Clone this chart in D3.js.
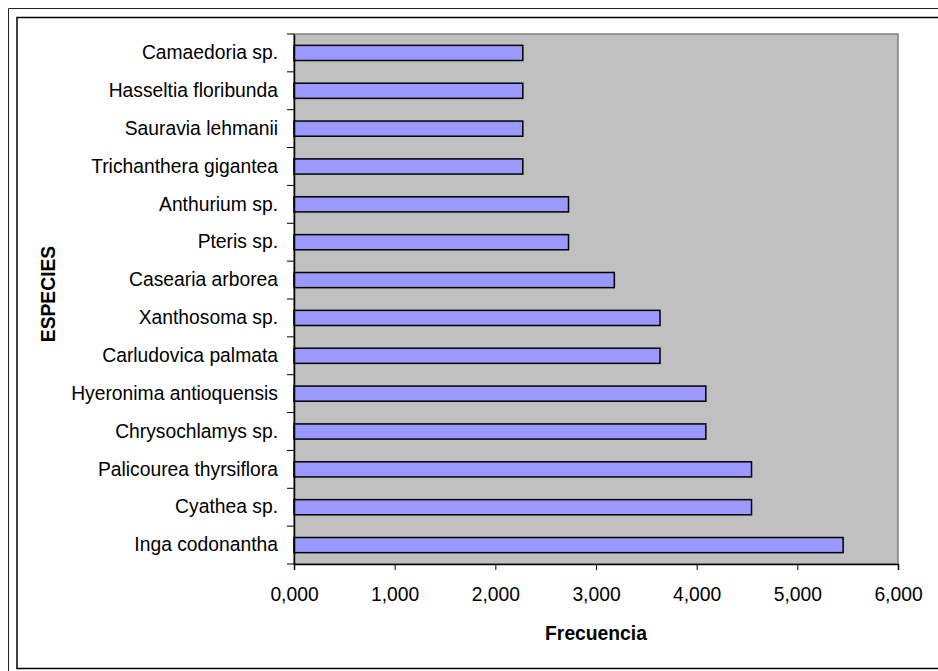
<!DOCTYPE html>
<html>
<head>
<meta charset="utf-8">
<script src="https://cdn.jsdelivr.net/npm/d3@7/dist/d3.min.js"></script>
<style>
  body { margin: 0; background: #fff; }
  svg { display: block; font-family: "Liberation Sans", Arial, sans-serif; }
  .tick text { fill: #000; }
</style>
</head>
<body>
<svg width="938" height="671"></svg>
<script>
const svg = d3.select('svg');
const width = +svg.attr('width');
const height = +svg.attr('height');

// top to bottom, as in the chart
const species = [
  'Camaedoria sp.', 'Hasseltia floribunda', 'Sauravia lehmanii', 'Trichanthera gigantea',
  'Anthurium sp.', 'Pteris sp.', 'Casearia arborea', 'Xanthosoma sp.',
  'Carludovica palmata', 'Hyeronima antioquensis', 'Chrysochlamys sp.',
  'Palicourea thyrsiflora', 'Cyathea sp.', 'Inga codonantha'
];
const frecuencia = [
  2.273, 2.273, 2.273, 2.273,
  2.727, 2.727, 3.182, 3.636,
  3.636, 4.091, 4.091,
  4.545, 4.545, 5.455
];
const xTicks = [0, 1, 2, 3, 4, 5, 6];

const data = species.map((s, i) => ({ name: s, value: frecuencia[i] }));
const fontSize = 19.3;

// double frame round the chart (right side runs off the picture)
svg.append('path')
  .attr('d', `M${width},8.5 H8.5 V${height}`)
  .attr('fill', 'none').attr('stroke', '#222').attr('stroke-width', 1);
svg.append('path')
  .attr('d', `M${width},17.5 H17 V668.5 H${width}`)
  .attr('fill', 'none').attr('stroke', '#000').attr('stroke-width', 1.5);

const margin = { top: 34, left: 294, right: 40, bottom: 107 };
const innerWidth = width - margin.left - margin.right;
const innerHeight = height - margin.top - margin.bottom;

const g = svg.append('g')
  .attr('transform', `translate(${margin.left},${margin.top})`);

const xScale = d3.scaleLinear()
  .domain([0, 6])
  .range([0, innerWidth]);

const yScale = d3.scaleBand()
  .domain(species)
  .range([0, innerHeight])
  .paddingInner(0)
  .paddingOuter(0);

// plot area
g.append('rect')
  .attr('width', innerWidth)
  .attr('height', innerHeight)
  .attr('fill', '#c0c0c0')
  .attr('stroke', '#808080')
  .attr('stroke-width', 1.5);

// bars
const barH = yScale.bandwidth() / 2.5;
g.selectAll('.bar').data(data)
  .enter().append('rect')
  .attr('class', 'bar')
  .attr('x', 0)
  .attr('y', d => yScale(d.name) + (yScale.bandwidth() - barH) / 2)
  .attr('width', d => xScale(d.value))
  .attr('height', barH)
  .attr('fill', '#9999ff')
  .attr('stroke', '#000')
  .attr('stroke-width', 1.5);

// x axis
const xAxis = d3.axisBottom(xScale)
  .tickValues(xTicks)
  .tickSize(6)
  .tickPadding(17)
  .tickFormat(d => d3.format('.3f')(d).replace('.', ','));

const xAxisG = g.append('g')
  .attr('transform', `translate(0,${innerHeight})`)
  .call(xAxis);
xAxisG.attr('font-family', null);
xAxisG.selectAll('text').attr('font-size', fontSize);
xAxisG.select('.domain').attr('stroke', '#000').attr('stroke-width', 1.5);
xAxisG.selectAll('.tick line').attr('stroke', '#000');

// y axis (labels at band centres)
const yAxis = d3.axisLeft(yScale)
  .tickSize(0)
  .tickPadding(16);
const yAxisG = g.append('g').call(yAxis);
yAxisG.attr('font-family', null);
yAxisG.selectAll('text').attr('font-size', fontSize);
yAxisG.select('.domain').attr('stroke', '#000').attr('stroke-width', 1.5);

// category tick marks at band boundaries
const bounds = species.map(s => yScale(s)).concat([innerHeight]);
g.selectAll('.ytick').data(bounds)
  .enter().append('line')
  .attr('class', 'ytick')
  .attr('x1', -7).attr('x2', 0)
  .attr('y1', d => d).attr('y2', d => d)
  .attr('stroke', '#000');

// axis titles
svg.append('text')
  .attr('x', margin.left + innerWidth / 2)
  .attr('y', 640)
  .attr('text-anchor', 'middle')
  .attr('font-size', fontSize)
  .attr('font-weight', 'bold')
  .text('Frecuencia');

svg.append('text')
  .attr('transform', `translate(55,${margin.top + innerHeight / 2 - 5}) rotate(-90)`)
  .attr('text-anchor', 'middle')
  .attr('font-size', fontSize)
  .attr('font-weight', 'bold')
  .text('ESPECIES');
</script>
</body>
</html>
